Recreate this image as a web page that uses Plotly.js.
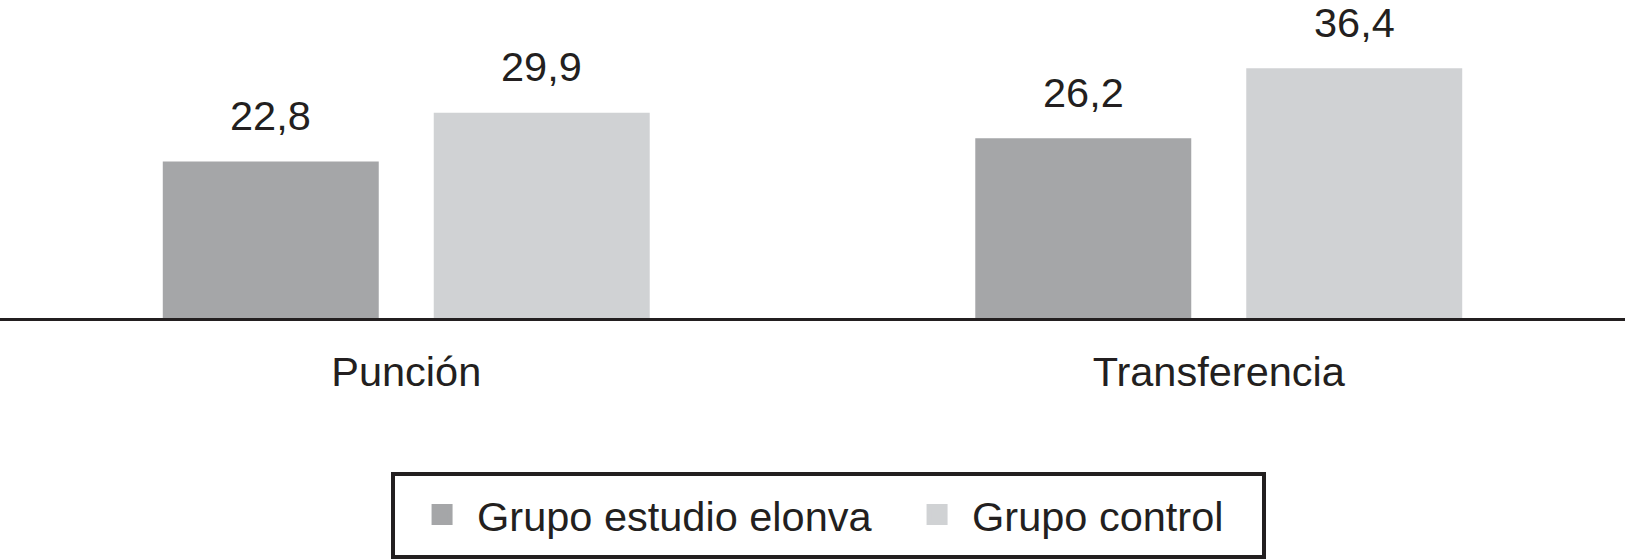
<!DOCTYPE html>
<html>
<head>
<meta charset="utf-8">
<script src="https://cdn.plot.ly/plotly-3.0.1.min.js"></script>
<style>html,body{margin:0;padding:0;background:#fff;}#chart{width:1625px;height:560px;}</style>
</head>
<body>
<div id="chart"></div>
<script>
const categories = ["Punción", "Transferencia"];
const seriesNames = ["Grupo estudio elonva", "Grupo control"];
const estudioValues = [22.8, 26.2];
const controlValues = [29.9, 36.4];
const labelEstudio = ["22,8", "26,2"];
const labelControl = ["29,9", "36,4"];

const colors = ["#a5a6a8", "#d0d2d4"];
const ink = "#231f20";
const FONT = "Liberation Sans, Arial, Helvetica, sans-serif";
const FS = 41.5;
const bargap = 0.333, bargroupgap = 0.203;
const slot = (1 - bargap) / 2;

const traces = [
  {type: "bar", name: seriesNames[0], x: categories, y: estudioValues,
   marker: {color: colors[0], line: {width: 0}}, showlegend: false, hoverinfo: "skip"},
  {type: "bar", name: seriesNames[1], x: categories, y: controlValues,
   marker: {color: colors[1], line: {width: 0}}, showlegend: false, hoverinfo: "skip"},
  // legend entries (no data drawn)
  {type: "scatter", mode: "markers", name: seriesNames[0], x: [null], y: [null],
   marker: {symbol: "square", size: 16, color: colors[0], line: {width: 5, color: colors[0]}}},
  {type: "scatter", mode: "markers", name: seriesNames[1], x: [null], y: [null],
   marker: {symbol: "square", size: 16, color: colors[1], line: {width: 5, color: colors[1]}}}
];

const annotations = [];
categories.forEach((c, i) => {
  annotations.push({x: i - slot / 2, y: estudioValues[i], xref: "x", yref: "y",
    text: labelEstudio[i], showarrow: false, yanchor: "middle", yshift: 46,
    font: {family: FONT, size: FS, color: ink}});
  annotations.push({x: i + slot / 2, y: controlValues[i], xref: "x", yref: "y",
    text: labelControl[i], showarrow: false, yanchor: "middle", yshift: 46,
    font: {family: FONT, size: FS, color: ink}});
});

const layout = {
  width: 1625, height: 560,
  margin: {l: 0, r: 0, t: 0, b: 242, autoexpand: false},
  paper_bgcolor: "#ffffff", plot_bgcolor: "#ffffff",
  barmode: "group", bargap: bargap, bargroupgap: bargroupgap,
  font: {family: FONT, color: ink},
  xaxis: {
    type: "category", range: [-0.5, 1.5], fixedrange: true,
    showline: true, linewidth: 3, linecolor: ink, showgrid: false, zeroline: false,
    ticks: "", ticklabelstandoff: 15,
    tickfont: {family: FONT, size: FS, color: ink}
  },
  yaxis: {range: [0, 46.33], visible: false, showgrid: false, zeroline: false, fixedrange: true},
  showlegend: true,
  legend: {
    orientation: "h", x: 0.2505, xanchor: "left", y: -0.5126, yanchor: "top",
    borderwidth: 0, bgcolor: "rgba(0,0,0,0)",
    font: {family: FONT, size: FS, color: ink},
    itemwidth: 60, entrywidth: 420, entrywidthmode: "pixels",
    itemclick: false, itemdoubleclick: false
  },
  shapes: [{
    type: "rect", xref: "paper", yref: "paper",
    x0: 0.24185, x1: 0.77785, y0: -0.4906, y1: -0.7516,
    line: {color: ink, width: 4}, fillcolor: "rgba(0,0,0,0)", layer: "above"
  }],
  annotations: annotations
};

Plotly.newPlot("chart", traces, layout, {displayModeBar: false, staticPlot: true});
</script>
</body>
</html>
